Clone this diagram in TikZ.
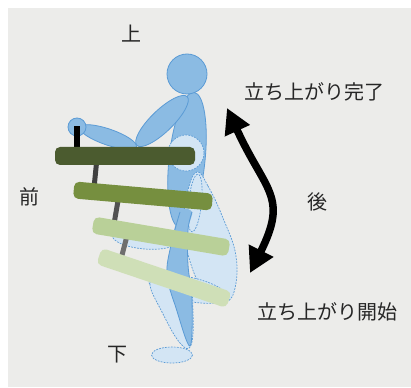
\documentclass[tikz,border=0pt]{standalone}
\usepackage{fontspec}
\newfontfamily\jpfont{Noto Sans CJK JP}
\usetikzlibrary{arrows.meta}
\definecolor{bg}{HTML}{ECECEA}
\definecolor{bodyblue}{HTML}{8BBBE3}
\definecolor{bodyline}{HTML}{5B9BD5}
\definecolor{ghostblue}{HTML}{D3E5F4}
\definecolor{barA}{HTML}{4B5B2F}
\definecolor{barB}{HTML}{768F3F}
\definecolor{barC}{HTML}{B9D098}
\definecolor{barD}{HTML}{CFDFB7}
\begin{document}
\begin{tikzpicture}[x=1pt,y=-1pt,
  solidpart/.style={fill=bodyblue, draw=bodyline, line width=0.8pt},
  ghostpart/.style={fill=ghostblue, draw=bodyline, line width=0.7pt, dash pattern=on 1.8pt off 1.2pt},
  caption/.style={font=\jpfont\fontsize{20}{24}\selectfont, text=black!85, inner sep=0pt},
  seat/.style={rounded corners=5pt},
  post/.style={line width=5pt},
]
\useasboundingbox (0,0) rectangle (411,387);
\fill[white] (0,0) rectangle (411,387);
\fill[bg] (8,8) rectangle (411,387);

% standing posture (solid)
\draw[solidpart, rotate around={-6:(187,160)}] (187,160) ellipse [x radius=18, y radius=68];
\draw[solidpart] (187,74) circle [radius=20];
\draw[solidpart, rotate around={-19:(108,137)}] (108,137) ellipse [x radius=30, y radius=8];
\draw[solidpart, rotate around={44:(162,121)}] (162,121) ellipse [x radius=35, y radius=11];
\draw[solidpart] (77,127) circle [radius=9];
\fill[black] (74,126) rectangle (80,147);

% seated posture (dashed outline)
\draw[ghostpart] plot[smooth cycle, tension=0.7] coordinates
  {(197,172) (208,186) (223,218) (236,256) (234,292) (222,302) (204,292) (189,258) (184,222) (188,190)};
\draw[ghostpart, rotate around={-6:(195,203)}] (195,203) ellipse [x radius=6.5, y radius=29];
\draw[ghostpart, rotate around={-5:(145,238)}] (145,238) ellipse [x radius=33, y radius=11];
\draw[ghostpart, rotate around={-12:(188,289)}] (188,289) ellipse [x radius=40, y radius=12];
\draw[ghostpart] plot[smooth cycle, tension=0.7] coordinates
  {(150,283) (165,274) (188,280) (193,312) (191,345) (180,343) (162,312)};
\draw[ghostpart] (172,355) ellipse [x radius=20.5, y radius=8];
\draw[ghostpart] (186,153) circle [radius=18];

% standing leg
\fill[bodyblue] plot[smooth cycle, tension=0.6] coordinates
  {(180,212) (171,245) (167,275) (176,308) (190,346) (192,300) (188,265) (188,230) (192,212)};
\draw[bodyline, line width=0.8pt] plot[smooth, tension=0.6] coordinates
  {(180,212) (171,245) (167,275) (176,308) (190,346) (192,300) (188,265) (188,230) (192,212)};

% handle posts
\draw[post, black!75] (97,158) -- (94,188);
\draw[post, black!68] (119,195) -- (114,224);
\draw[post, black!57] (128,232) -- (121,259);

% seat bars
\fill[barA, seat] (55,147) rectangle (195,165);
\fill[barB, seat, rotate around={-5:(143,196)}] (73.5,187.5) rectangle (212.5,204.5);
\fill[barC, seat, rotate around={-9.6:(161,236.5)}] (92,228) rectangle (230,245);
\fill[barD, seat, rotate around={-18.7:(164,278)}] (95.5,269.5) rectangle (232.5,286.5);

% motion arrow
\coordinate (arrTop) at (227,108);
\coordinate (arrBot) at (250,273);
\draw[line width=7.5pt, {Triangle[length=25pt,width=26pt]}-{Triangle[length=25pt,width=26pt]}]
  (arrTop) .. controls (265.5,192) and (288.5,196) .. (arrBot);

% direction and phase labels
\node[caption] (up) at (131,34) {上};
\node[caption] (front) at (29,197) {前};
\node[caption] (down) at (117,355) {下};
\node[caption] (back) at (317,202) {後};
\node[caption] (finish) at (314,92) {立ち上がり完了};
\node[caption] (start) at (327,312) {立ち上がり開始};
\end{tikzpicture}
\end{document}
